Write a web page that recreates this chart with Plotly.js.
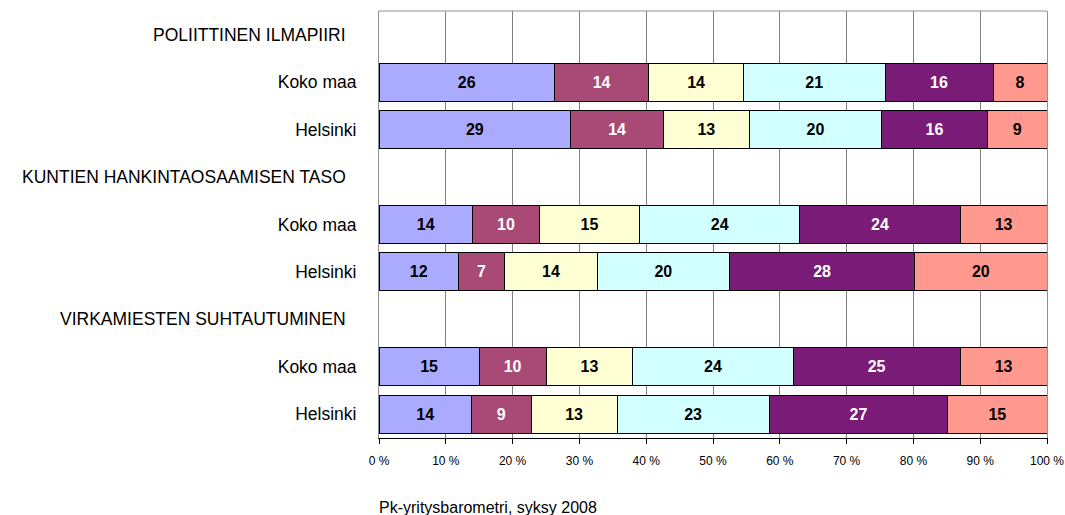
<!DOCTYPE html>
<html>
<head>
<meta charset="utf-8">
<script src="https://cdn.plot.ly/plotly-3.0.1.min.js"></script>
<style>
  html, body { margin: 0; padding: 0; background: #ffffff; }
  #chart { width: 1065px; height: 515px; }
</style>
</head>
<body>
<div id="chart"></div>
<script>
// Section headings and the two regions shown under each
const groups = ["POLIITTINEN ILMAPIIRI", "KUNTIEN HANKINTAOSAAMISEN TASO", "VIRKAMIESTEN SUHTAUTUMINEN"];
const regions = ["Koko maa", "Helsinki"];

// Answer shares per row, in row order: group1 Koko maa, group1 Helsinki, group2 ..., group3 ...
const s1 = [26, 29, 14, 12, 15, 14];
const s2 = [14, 14, 10, 7, 10, 9];
const s3 = [14, 13, 15, 14, 13, 13];
const s4 = [21, 20, 24, 20, 24, 23];
const s5 = [16, 16, 24, 28, 25, 27];
const s6 = [8, 9, 13, 20, 13, 15];

const xTickVals = [0, 10, 20, 30, 40, 50, 60, 70, 80, 90, 100];
const xTickText = ["0 %", "10 %", "20 %", "30 %", "40 %", "50 %", "60 %", "70 %", "80 %", "90 %", "100 %"];

const caption = "Pk-yritysbarometri, syksy 2008";

const seriesList = [s1, s2, s3, s4, s5, s6];
const fills = ["#AAAAFF", "#A94A76", "#FFFFD4", "#D2FFFF", "#7B1B78", "#FF9990"];
const labelColors = ["#000000", "#ffffff", "#000000", "#000000", "#ffffff", "#000000"];

// Row slots: each group takes one heading row followed by its region rows
const rowsPerGroup = regions.length + 1;
const barRows = [];
const barLabels = [];
const headingRows = [];
groups.forEach((g, gi) => {
  headingRows.push(gi * rowsPerGroup);
  regions.forEach((r, ri) => {
    barRows.push(gi * rowsPerGroup + ri + 1);
    barLabels.push(r);
  });
});
const totalRows = groups.length * rowsPerGroup;

const FONT = "Liberation Sans, Arial, sans-serif";

const traces = seriesList.map((vals, i) => ({
  type: "bar",
  orientation: "h",
  name: "Vaihtoehto " + (i + 1),
  x: vals,
  y: barRows,
  text: vals.map(String),
  texttemplate: "%{text}",
  textposition: "inside",
  insidetextanchor: "middle",
  textangle: 0,
  constraintext: "none",
  textfont: { family: FONT, size: 16, color: labelColors[i], weight: "bold" },
  marker: { color: fills[i], line: { color: "#000000", width: 1 } },
  hoverinfo: "x+name",
  showlegend: false
}));

const annotations = groups.map((g, gi) => ({
  text: g,
  xref: "paper",
  yref: "y",
  x: -0.047,
  y: headingRows[gi],
  xanchor: "right",
  yanchor: "middle",
  showarrow: false,
  font: { family: FONT, size: 17.5, color: "#000000" }
}));

annotations.push({
  text: caption,
  xref: "paper",
  yref: "paper",
  x: -0.003,
  y: -0.163,
  xanchor: "left",
  yanchor: "middle",
  showarrow: false,
  font: { family: FONT, size: 16, color: "#000000" }
});

const layout = {
  width: 1065,
  height: 515,
  margin: { l: 379, r: 18, t: 11, b: 77 },
  paper_bgcolor: "#ffffff",
  plot_bgcolor: "#ffffff",
  barmode: "stack",
  barnorm: "percent",
  bargap: 0.2,
  xaxis: {
    range: [0, 100],
    tickvals: xTickVals,
    ticktext: xTickText,
    tickfont: { family: FONT, size: 12, color: "#000000" },
    ticks: "outside",
    ticklen: 5,
    tickcolor: "#000000",
    ticklabelstandoff: 7,
    showline: true,
    linecolor: "#000000",
    linewidth: 1,
    showgrid: true,
    gridcolor: "#808080",
    gridwidth: 1,
    zeroline: false,
    fixedrange: true
  },
  yaxis: {
    range: [totalRows - 0.5, -0.5],
    tickvals: barRows,
    ticktext: barLabels,
    tickfont: { family: FONT, size: 17.5, color: "#000000" },
    ticks: "",
    ticklabelstandoff: 18,
    showline: true,
    mirror: true,
    linecolor: "#909090",
    linewidth: 1,
    showgrid: false,
    zeroline: false,
    fixedrange: true
  },
  shapes: [{
    type: "line",
    xref: "paper",
    yref: "paper",
    x0: 0, x1: 1, y0: 1, y1: 1,
    line: { color: "#909090", width: 1 }
  }],
  annotations: annotations
};

Plotly.newPlot("chart", traces, layout, { displayModeBar: false, staticPlot: true });
</script>
</body>
</html>
